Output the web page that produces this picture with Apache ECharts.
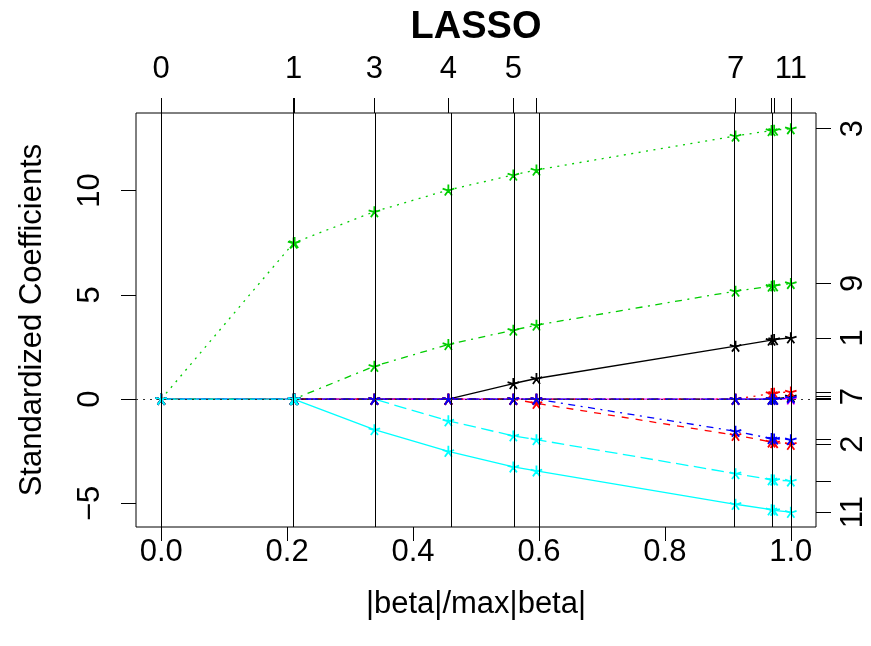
<!DOCTYPE html>
<html>
<head>
<meta charset="utf-8">
<script src="https://cdn.jsdelivr.net/npm/echarts@6/dist/echarts.min.js"></script>
<style>
  html, body { margin: 0; padding: 0; background: #fff; }
  #chart { width: 871px; height: 646px; }
</style>
</head>
<body>
<div id="chart"></div>
<script>
// lasso path: |beta|/max|beta| at each step, and df shown on top
const steps = [0, 0.2103, 0.2119, 0.3386, 0.4561, 0.5593, 0.5960, 0.9122, 0.9694, 0.9735, 1.0]
const stepDf = [0, 1, 2, 3, 4, 5, 6, 7, 8, 9, 11]
const shownDf = [0, 1, 3, 4, 5, 7, 11]

// standardized coefficients of each variable at each step
const b1 = [0, 0, 0, 0, 0, 0.75, 0.99, 2.54, 2.83, 2.86, 2.94]
const b2 = [0, 0, 0, 0, 0, 0, -0.20, -1.73, -2.05, -2.08, -2.16]
const b3 = [0, 7.49, 7.51, 8.99, 10.03, 10.75, 10.99, 12.62, 12.88, 12.90, 12.97]
const b4 = [0, 0, 0, 0, 0, 0, 0, -1.54, -1.89, -1.91, -1.94]
const b5 = [0, 0, 0, 0, -1.04, -1.76, -1.94, -3.57, -3.86, -3.88, -3.92]
const b6 = [0, 0, 0, 0, 0, 0, 0, 0, 0, 0, 0.01]
const b7 = [0, 0, 0, 0, 0, 0, 0, 0, 0, 0.01, 0.12]
const b8 = [0, 0, 0, 0, 0, 0, 0, 0, 0.27, 0.29, 0.35]
const b9 = [0, 0, 0, 1.58, 2.62, 3.31, 3.55, 5.18, 5.42, 5.44, 5.55]
const b10 = [0, 0, 0, 0, 0, 0, 0, 0, 0, 0, 0.06]
const b11 = [0, 0, -0.02, -1.46, -2.50, -3.25, -3.44, -5.04, -5.30, -5.33, -5.42]

const varNames = ['1', '2', '3', '4', '5', '6', '7', '8', '9', '10', '11']
const shownVars = ['3', '9', '1', '7', '2', '11']
const xTicks = [0, 0.2, 0.4, 0.6, 0.8, 1.0]
const yTicks = [-5, 0, 5, 10]

const coefs = [b1, b2, b3, b4, b5, b6, b7, b8, b9, b10, b11]
const finals = coefs.map(c => c[c.length - 1])

// R palette 1:6 and lty 1:5, cycled like matplot
const palette = ['#000000', '#FF0000', '#00CD00', '#0000FF', '#00FFFF', '#FF00FF']
const dashes = ['solid', [7, 7], [2, 5.5], [2, 5.5, 7, 5.5], [12.5, 5.5]]

const FONT = 'Liberation Sans'
const star = 'path://M0 0L0 -5M0 0L4.76 -1.55M0 0L2.94 4.05M0 0L-2.94 4.05M0 0L-4.76 -1.55'

const chart = echarts.init(document.getElementById('chart'))

const series = coefs.map((c, i) => {
  const col = palette[i % 6]
  return {
    name: varNames[i],
    type: 'line',
    xAxisIndex: 0,
    yAxisIndex: 0,
    data: steps.map((s, j) => [s, c[j]]),
    symbol: star,
    symbolSize: 11.5,
    symbolKeepAspect: true,
    showAllSymbol: true,
    itemStyle: { color: col, borderColor: col, borderWidth: 1.8 },
    lineStyle: { color: col, width: 1.3, type: dashes[i % 5] },
    silent: true,
    animation: false
  }
})

// vertical lines at each step and dotted zero line
series[0].markLine = {
  silent: true,
  symbol: ['none', 'none'],
  label: { show: false },
  animation: false,
  data: steps.map(s => ({ xAxis: s, lineStyle: { color: '#000', width: 1, type: 'solid' } }))
    .concat([{ yAxis: 0, lineStyle: { color: '#333', width: 1.2, type: [2, 5] } }])
}

const stepLabel = v => {
  const i = steps.findIndex(s => Math.abs(s - v) < 1e-6)
  return i < 0 ? '' : String(stepDf[i])
}
const varLabel = v => {
  const i = finals.findIndex(f => Math.abs(f - v) < 1e-6)
  return i < 0 ? '' : varNames[i]
}

const txt = { fontFamily: FONT, fontSize: 31, color: '#000' }
const noLine = { show: false, onZero: false }

chart.setOption({
  backgroundColor: '#fff',
  animation: false,
  graphic: [{
    type: 'text',
    x: 476,
    y: 28,
    style: { text: 'LASSO', font: 'bold 38px ' + FONT, fill: '#000', textAlign: 'center', textVerticalAlign: 'middle' }
  }],
  grid: {
    left: 136, right: 55, top: 113, bottom: 119,
    show: true, borderColor: '#000', borderWidth: 1
  },
  xAxis: [{
    type: 'value',
    position: 'bottom',
    min: -0.04, max: 1.04,
    axisLine: noLine,
    splitLine: { show: false },
    axisTick: { show: true, customValues: xTicks, length: 14, lineStyle: { color: '#000' } },
    axisLabel: Object.assign({ customValues: xTicks, margin: 10, formatter: v => v.toFixed(1) }, txt),
    name: '|beta|/max|beta|',
    nameLocation: 'middle',
    nameGap: 62,
    nameTextStyle: txt
  }, {
    type: 'value',
    position: 'top',
    min: -0.04, max: 1.04,
    axisLine: noLine,
    splitLine: { show: false },
    axisTick: { show: true, customValues: steps, length: 15, lineStyle: { color: '#000' } },
    axisLabel: Object.assign({
      customValues: steps.filter((s, i) => shownDf.includes(stepDf[i])),
      margin: 28,
      formatter: stepLabel
    }, txt)
  }],
  yAxis: [{
    type: 'value',
    position: 'left',
    min: -6.13, max: 13.72,
    axisLine: noLine,
    splitLine: { show: false },
    axisTick: { show: true, customValues: yTicks, length: 15, lineStyle: { color: '#000' } },
    axisLabel: Object.assign({ customValues: yTicks, rotate: 90, margin: 30, formatter: v => (v < 0 ? '\u2212' + (-v) : String(v)) }, txt),
    name: 'Standardized Coefficients',
    nameLocation: 'middle',
    nameGap: 88,
    nameTextStyle: txt
  }, {
    type: 'value',
    position: 'right',
    min: -6.13, max: 13.72,
    axisLine: noLine,
    splitLine: { show: false },
    axisTick: { show: true, customValues: finals, length: 15, lineStyle: { color: '#000' } },
    axisLabel: Object.assign({
      customValues: finals.filter((f, i) => shownVars.includes(varNames[i])),
      rotate: 90,
      margin: 22,
      formatter: varLabel
    }, txt)
  }],
  series: series
})
</script>
</body>
</html>
